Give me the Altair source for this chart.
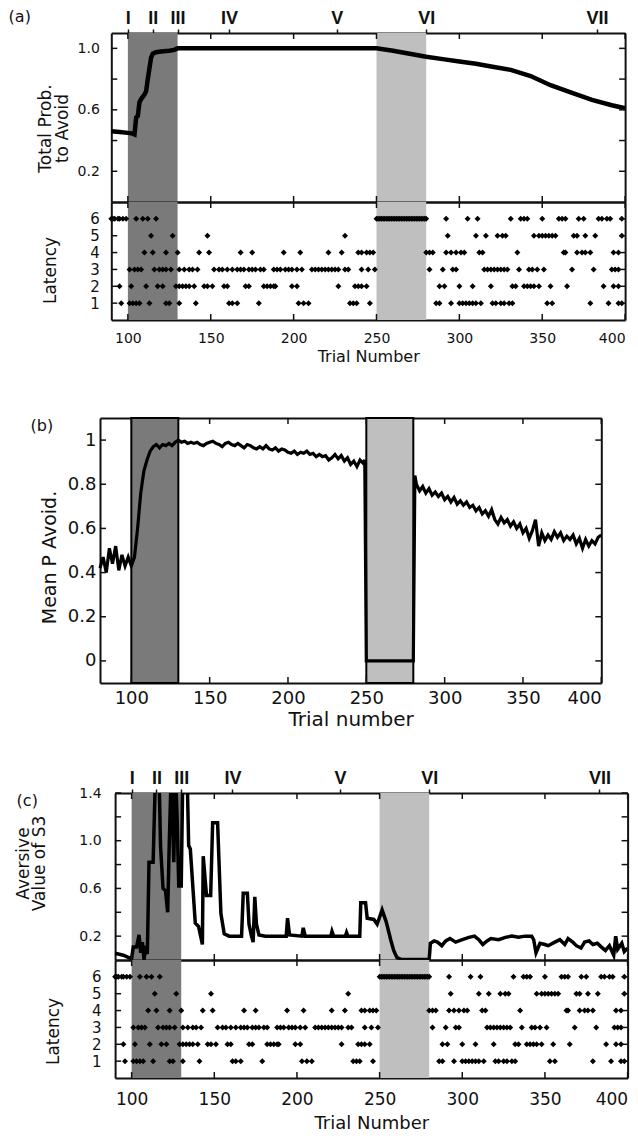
import json
import altair as alt
import pandas as pd

FONT = "DejaVu Sans"
BOLD_FONT = "Liberation Sans"
INK = "#111111"

# ---------------- data ----------------
X_TICKS = [100, 150, 200, 250, 300, 350, 400]
roman_pos = [100, 115, 130, 161, 226, 280, 383]
roman_lab = ["I", "II", "III", "IV", "V", "VI", "VII"]

shade_start = [100, 250]
shade_end = [130, 280]
shade_kind = ["dark", "light"]

# (a) total probability to avoid
a_trial = [90, 95, 100, 103, 104, 105, 106, 107, 108, 110, 111, 112, 113, 114, 115, 117, 120, 125, 128, 130,
           250, 260, 270, 280, 290, 300, 310, 320, 331, 343, 355, 368, 380, 392, 400]
a_value = [0.46, 0.455, 0.45, 0.445, 0.44, 0.55, 0.56, 0.65, 0.67, 0.70, 0.72, 0.80, 0.87, 0.94, 0.965, 0.975, 0.98, 0.985, 0.99, 1.0,
           1.0, 0.985, 0.965, 0.945, 0.93, 0.915, 0.90, 0.88, 0.86, 0.82, 0.76, 0.71, 0.665, 0.63, 0.61]

# (b) mean P avoid
b_trial = [80, 82, 84, 86, 88, 90, 92, 94, 96, 98, 100, 102, 104, 106, 108, 110, 112, 114, 116, 118,
           120, 122, 124, 126, 128, 130, 132, 134, 136, 138, 140, 142, 144, 146, 148, 150, 152, 154, 156, 158,
           160, 162, 164, 166, 168, 170, 172, 174, 176, 178, 180, 182, 184, 186, 188, 190, 192, 194, 196, 198,
           200, 202, 204, 206, 208, 210, 212, 214, 216, 218, 220, 222, 224, 226, 228, 230, 232, 234, 236, 238,
           240, 242, 244, 246, 248, 249, 250, 280, 281,
           282, 284, 286, 288, 290, 292, 294, 296, 298, 300, 302, 304, 306, 308, 310, 312, 314, 316, 318, 320,
           322, 324, 326, 328, 330, 332, 334, 336, 338, 340, 342, 344, 346, 348, 350, 352, 354, 356, 358, 360,
           362, 364, 366, 368, 370, 372, 374, 376, 378, 380, 382, 384, 386, 388, 390, 392, 394, 396, 398, 400]
b_value = [0.42, 0.47, 0.40, 0.51, 0.44, 0.52, 0.41, 0.48, 0.43, 0.47, 0.43, 0.47, 0.60, 0.76, 0.86, 0.91, 0.95, 0.97, 0.98, 0.965,
           0.98, 0.975, 0.985, 0.975, 0.99, 1.0, 0.99, 0.995, 0.985, 0.99, 0.985, 0.99, 0.98, 0.975, 0.985, 0.99, 0.995, 0.985, 0.98, 0.97,
           0.985, 0.99, 0.98, 0.975, 0.985, 0.975, 0.965, 0.98, 0.975, 0.965, 0.96, 0.97, 0.96, 0.975, 0.96, 0.955, 0.965, 0.95, 0.96, 0.955,
           0.945, 0.94, 0.95, 0.935, 0.945, 0.94, 0.95, 0.935, 0.94, 0.925, 0.935, 0.925, 0.93, 0.91, 0.92, 0.935, 0.915, 0.93, 0.905, 0.92,
           0.89, 0.905, 0.88, 0.91, 0.895, 0.91, 0.0, 0.0, 0.84,
           0.80, 0.77, 0.79, 0.76, 0.78, 0.75, 0.765, 0.745, 0.76, 0.73, 0.745, 0.72, 0.74, 0.71, 0.725, 0.705, 0.72, 0.695, 0.705, 0.68,
           0.695, 0.665, 0.68, 0.655, 0.685, 0.64, 0.62, 0.65, 0.625, 0.64, 0.61, 0.63, 0.60, 0.62, 0.58, 0.60, 0.555, 0.59, 0.64, 0.52,
           0.58, 0.545, 0.57, 0.55, 0.585, 0.56, 0.58, 0.545, 0.565, 0.55, 0.57, 0.53, 0.555, 0.51, 0.55, 0.52, 0.545, 0.53, 0.56, 0.57]

# (c) aversive value of S3 (values above 1.4 run off the top of the panel)
c_trial = [90, 95, 99, 100, 101, 103, 104.5, 105.5, 106.5, 107.5, 108.5, 109.5, 110.5, 113, 114.5, 116.5, 117.5, 119, 120.5, 121.8,
           122.8, 124, 125.5, 126.5, 127.5, 128.5, 130, 131, 133.5, 134.5, 135.5, 138.5, 140.5, 142.8, 143.3, 145.3, 147.8, 149, 152, 154,
           156, 159, 166.5, 167.5, 170, 171, 172.5, 173.5, 174.5, 175.5, 177, 181, 193.5, 194.3, 195.5, 203, 203.8, 205, 220.5, 221.2,
           222.2, 229.3, 230, 230.8, 238, 238.6, 241.5, 242.5, 246.5, 248.5, 251.5, 254, 256.7, 258.5, 260.5, 263, 280, 280.7, 283, 285,
           287.6, 290, 292.6, 296, 300, 304, 307.4, 310, 312.4, 315, 317.3, 322, 326, 330, 334, 338, 342, 343.2, 344.6, 347,
           350, 352, 356, 359, 362, 364, 366.8, 369, 371.8, 374, 376.7, 379, 381.7, 384, 386.6, 389, 391.6, 392.8, 394, 396.5,
           398, 400]
c_value = [0.056, 0.04, 0.015, 0.015, 0.11, 0.11, 0.21, 0.06, 0.15, 0.0, 0.12, 0.05, 0.82, 0.82, 1.6, 1.6, 0.95, 0.6, 0.58, 0.4,
           1.0, 1.6, 0.82, 1.6, 1.2, 0.62, 0.62, 1.6, 1.6, 0.96, 0.93, 0.31, 0.28, 0.13, 0.87, 0.54, 0.54, 1.15, 1.15, 0.39,
           0.22, 0.2, 0.2, 0.56, 0.56, 0.3, 0.2, 0.15, 0.53, 0.3, 0.21, 0.2, 0.2, 0.35, 0.21, 0.2, 0.27, 0.2, 0.2, 0.24,
           0.2, 0.2, 0.23, 0.2, 0.2, 0.48, 0.48, 0.35, 0.34, 0.3, 0.42, 0.32, 0.17, 0.08, 0.02, 0.005, 0.005, 0.14, 0.16, 0.15,
           0.12, 0.16, 0.18, 0.15, 0.17, 0.19, 0.2, 0.17, 0.13, 0.16, 0.18, 0.17, 0.19, 0.2, 0.19, 0.2, 0.2, 0.17, 0.06, 0.14,
           0.13, 0.12, 0.15, 0.17, 0.13, 0.18, 0.15, 0.12, 0.1, 0.15, 0.16, 0.13, 0.14, 0.11, 0.08, 0.12, 0.04, 0.2, 0.09, 0.14,
           0.07, 0.1]

# latency raster (same trials shown in (a) and (c))
lat1 = [96, 101, 103, 105, 107, 113, 123, 125, 131, 141, 161, 163, 166, 179, 203, 206, 209, 234, 236, 238, 246,
        286, 288, 295, 300, 302, 304, 306, 308, 310, 313, 320, 322, 325, 327, 330, 332, 353, 356, 379, 390, 396, 398]
lat2 = [95, 102, 111, 118, 121, 129, 131, 133, 135, 137, 140, 146, 148, 151, 158, 160, 171, 173, 182, 184, 186, 188, 189,
        199, 202, 227, 237, 239, 241, 244, 288, 291, 300, 308, 319, 332, 334, 339, 341, 343, 345, 348, 355, 365, 387, 393, 396]
lat3 = [101, 104, 106, 108, 116, 119, 121, 123, 126, 131, 134, 137, 139, 142, 152, 155, 157, 160, 163, 166,
        168, 170, 173, 175, 177, 180, 182, 188, 190, 192, 195, 197, 199, 202, 205, 211, 213, 215, 217, 219, 221, 223, 225, 227,
        231, 233, 241, 245, 249, 282, 290, 296, 298, 315, 317, 319, 321, 323, 325, 327, 329, 336, 342, 344, 347, 351, 368, 381,
        392, 394, 396]
lat4 = [110, 115, 123, 130, 143, 149, 168, 175, 194, 204, 221, 229, 239, 241, 244, 246, 248, 280, 282, 284, 292, 295, 298,
        301, 303, 312, 314, 335, 363, 364, 371, 374, 376, 379, 393, 396]
lat5 = [114, 127, 148, 231, 293, 310, 316, 323, 326, 328, 345, 348, 350, 352, 354, 356, 358, 369, 371, 376, 382, 398]
lat6 = [90, 91, 92, 94, 95, 97, 99, 105, 109, 112, 117,
        250, 251, 252, 253, 254, 255, 256, 257, 258, 259, 260, 261, 262, 263, 264, 265, 266, 267, 268, 269,
        270, 271, 272, 273, 274, 275, 276, 277, 278, 279, 280,
        292, 305, 311, 331, 337, 339, 341, 350, 360, 362, 364, 372, 375, 384, 386, 389, 391, 398]

# ---------------- tables ----------------
shade_df = pd.DataFrame({"start": shade_start, "end": shade_end, "kind": shade_kind})
a_df = pd.DataFrame({"trial": a_trial, "value": a_value})
b_df = pd.DataFrame({"trial": b_trial, "value": b_value})
c_df = pd.DataFrame({"trial": c_trial, "value": c_value})
rows = []
for lat, trials in ((1, lat1), (2, lat2), (3, lat3), (4, lat4), (5, lat5), (6, lat6)):
    for t in trials:
        rows.append({"trial": t, "lat": lat})
lat_df = pd.DataFrame(rows)
xtick_df = pd.DataFrame({"tick": X_TICKS})

ROMAN_EXPR = "%s[indexof(%s, datum.value)]" % (json.dumps(roman_lab), json.dumps(roman_pos))
TICK_LEN = 6


def panel(df, yf, mark, xdomain, ydomain, off, w, H, yticks, yaxis_kw, top_kw, bottom_kw,
          shade_colors, shade_stroke=None, label=None):
    xs = alt.Scale(domain=xdomain, range=[off, off + w], nice=False, zero=False)
    ys = alt.Scale(domain=ydomain, nice=False, zero=False)
    rect_kw = dict(stroke=shade_stroke, strokeWidth=2) if shade_stroke else {}
    shade = alt.Chart(shade_df).mark_rect(**rect_kw).encode(
        x=alt.X("start:Q", scale=xs, axis=alt.Axis(orient="bottom", values=X_TICKS, **bottom_kw)),
        x2="end:Q",
        y=alt.value(0), y2=alt.value(H),
        color=alt.Color("kind:N", scale=alt.Scale(domain=["dark", "light"], range=shade_colors), legend=None),
    )
    ykw = dict(orient="left", values=yticks, **yaxis_kw)
    if off:
        ykw["offset"] = -off
    data = mark.encode(
        x=alt.X("trial:Q", scale=xs, axis=alt.Axis(orient="top", **top_kw)),
        y=alt.Y(f"{yf}:Q", scale=ys, axis=alt.Axis(**ykw)),
    )
    # right-hand frame line
    ghost = alt.Chart(df).mark_point(opacity=0).encode(
        x=alt.X("trial:Q", scale=xs, axis=None),
        y=alt.Y(f"{yf}:Q", scale=ys, axis=alt.Axis(orient="right", values=yticks, labels=False, ticks=False,
                                                  domain=True, title=None)),
    )
    # inward tick marks on all four sides (matlab style box)
    tk = dict(color=INK, thickness=1.5, size=TICK_LEN, opacity=1)
    t_top = alt.Chart(xtick_df).mark_tick(orient="vertical", **tk).encode(
        x=alt.X("tick:Q", scale=xs, axis=None), y=alt.value(TICK_LEN / 2))
    t_bot = alt.Chart(xtick_df).mark_tick(orient="vertical", **tk).encode(
        x=alt.X("tick:Q", scale=xs, axis=None), y=alt.value(H - TICK_LEN / 2))
    ytd = pd.DataFrame({"ytick": yticks})
    t_left = alt.Chart(ytd).mark_tick(orient="horizontal", **tk).encode(
        y=alt.Y("ytick:Q", scale=ys, axis=None), x=alt.value(off + TICK_LEN / 2))
    t_right = alt.Chart(ytd).mark_tick(orient="horizontal", **tk).encode(
        y=alt.Y("ytick:Q", scale=ys, axis=None), x=alt.value(off + w - TICK_LEN / 2))
    layers = [shade, data, ghost, t_top, t_bot, t_left, t_right]
    if label:
        txt, lx, ly = label
        layers.append(
            alt.Chart(pd.DataFrame({"lab": [txt]})).mark_text(align="left", baseline="middle", fontSize=16,
                                                              font=FONT, color=INK)
            .encode(text="lab:N", x=alt.value(lx), y=alt.value(ly))
        )
    return alt.layer(*layers).resolve_axis(x="independent", y="independent").properties(width=off + w, height=H)


LIGHT_COLORS = ["#7a7a7a", "#bfbfbf"]
B_COLORS = ["#666666", "#9b9b9b"]
roman_top = dict(values=roman_pos, labelExpr=ROMAN_EXPR, labelFontSize=18, labelFontWeight="bold",
                 labelFont=BOLD_FONT, labelPadding=2, tickSize=4, domain=True, title=None)
plain_top = dict(labels=False, tickSize=0, domain=True, title=None)
plain_bottom = dict(labels=False, tickSize=0, domain=True, title=None)
DOT = dict(shape="diamond", filled=True, size=36, color="black", opacity=1)

# ---- (a) ----
OFF_A, W_A = 11.3, 513.8
a_top = panel(
    a_df, "value", alt.Chart(a_df).mark_line(color="black", strokeWidth=4.5),
    [90, 400], [0, 1.1], OFF_A, W_A, 169, [0.2, 0.4, 0.6, 0.8, 1.0],
    dict(labelExpr="indexof([2,6,10], round(datum.value*10)) >= 0 ? format(datum.value, '.1f') : ''",
         labelFontSize=14, labelPadding=12, tickSize=0, domain=True,
         title=["Total Prob.", "to Avoid"], titleFontSize=17, titleX=-66, titleY=95, titleAngle=270,
         titleAlign="center", titleBaseline="middle", titleLineHeight=17),
    roman_top, plain_bottom, LIGHT_COLORS, label=("(a)", -91.4, -16),
)
a_rast = panel(
    lat_df, "lat", alt.Chart(lat_df).mark_point(**DOT),
    [90, 400], [0, 7], OFF_A, W_A, 118, [1, 2, 3, 4, 5, 6],
    dict(format="d", labelFontSize=15, labelPadding=12, tickSize=0, domain=True,
         title="Latency", titleFontSize=17, titleX=-61, titleY=68, titleAngle=270,
         titleAlign="center", titleBaseline="middle"),
    plain_top,
    dict(labels=True, labelFontSize=14, labelPadding=11, tickSize=0, domain=True,
         title="Trial Number", titleFontSize=16, titlePadding=3),
    LIGHT_COLORS,
)

# ---- (b) ----
b_panel = panel(
    b_df, "value", alt.Chart(b_df).mark_line(color="black", strokeWidth=3.2),
    [80, 400], [-0.1, 1.1], 0, 501.3, 265, [0, 0.2, 0.4, 0.6, 0.8, 1.0],
    dict(labelExpr="datum.value == 0 ? '0' : datum.value == 1 ? '1' : format(datum.value, '.1f')",
         labelFontSize=18, labelPadding=4, tickSize=0, domain=True,
         title="Mean P Avoid.", titleFontSize=19, titleX=-51, titleY=139, titleAngle=270,
         titleAlign="center", titleBaseline="middle"),
    plain_top,
    dict(labels=True, labelFontSize=18, labelPadding=6, tickSize=0, domain=True,
         title="Trial number", titleFontSize=20, titlePadding=2),
    B_COLORS, shade_stroke="black", label=("(b)", -69.4, 8),
)

# ---- (c) ----
OFF_C, W_C = 15.1, 512.5
c_top = panel(
    c_df, "value", alt.Chart(c_df).mark_line(color="black", strokeWidth=3.5, clip=True),
    [90, 400], [0, 1.4], OFF_C, W_C, 167, [0.2, 0.4, 0.6, 0.8, 1.0, 1.2, 1.4],
    dict(labelExpr="indexof([2,6,10,14], round(datum.value*10)) >= 0 ? format(datum.value, '.1f') : ''",
         labelFontSize=14, labelPadding=14, tickSize=0, domain=True,
         title=["Aversive", "Value of S3"], titleFontSize=17, titleX=-92, titleY=70, titleAngle=270,
         titleAlign="center", titleBaseline="middle", titleLineHeight=16),
    roman_top, plain_bottom, LIGHT_COLORS, label=("(c)", -83.4, 8),
)
c_rast = panel(
    lat_df, "lat", alt.Chart(lat_df).mark_point(**DOT),
    [90, 400], [0, 7], OFF_C, W_C, 118, [1, 2, 3, 4, 5, 6],
    dict(format="d", labelFontSize=15, labelPadding=14, tickSize=0, domain=True,
         title="Latency", titleFontSize=17, titleX=-62, titleY=71, titleAngle=270,
         titleAlign="center", titleBaseline="middle"),
    plain_top,
    dict(labels=True, labelFontSize=17, labelPadding=13, tickSize=0, domain=True,
         title="Trial Number", titleFontSize=18, titlePadding=7),
    LIGHT_COLORS,
)


def spacer(h):
    sp = pd.DataFrame({"v": [0]})
    return alt.Chart(sp).mark_point(opacity=0).encode(
        x=alt.X("v:Q", axis=None), y=alt.Y("v:Q", axis=None)
    ).properties(width=10, height=h)


chart = alt.vconcat(
    a_top, a_rast, spacer(98), b_panel, spacer(110), c_top, c_rast,
    spacing=0, bounds="flush",
).properties(
    padding={"left": 8, "top": 9, "right": 0, "bottom": 0}
).configure_view(stroke=None).configure_axis(
    grid=False, domainColor=INK, domainWidth=2, tickColor=INK, tickWidth=1.5,
    labelColor=INK, titleColor=INK, labelFont=FONT, titleFont=FONT, titleFontWeight="normal",
)

chart.save("out.html", embed_options={"renderer": "svg", "actions": False})
